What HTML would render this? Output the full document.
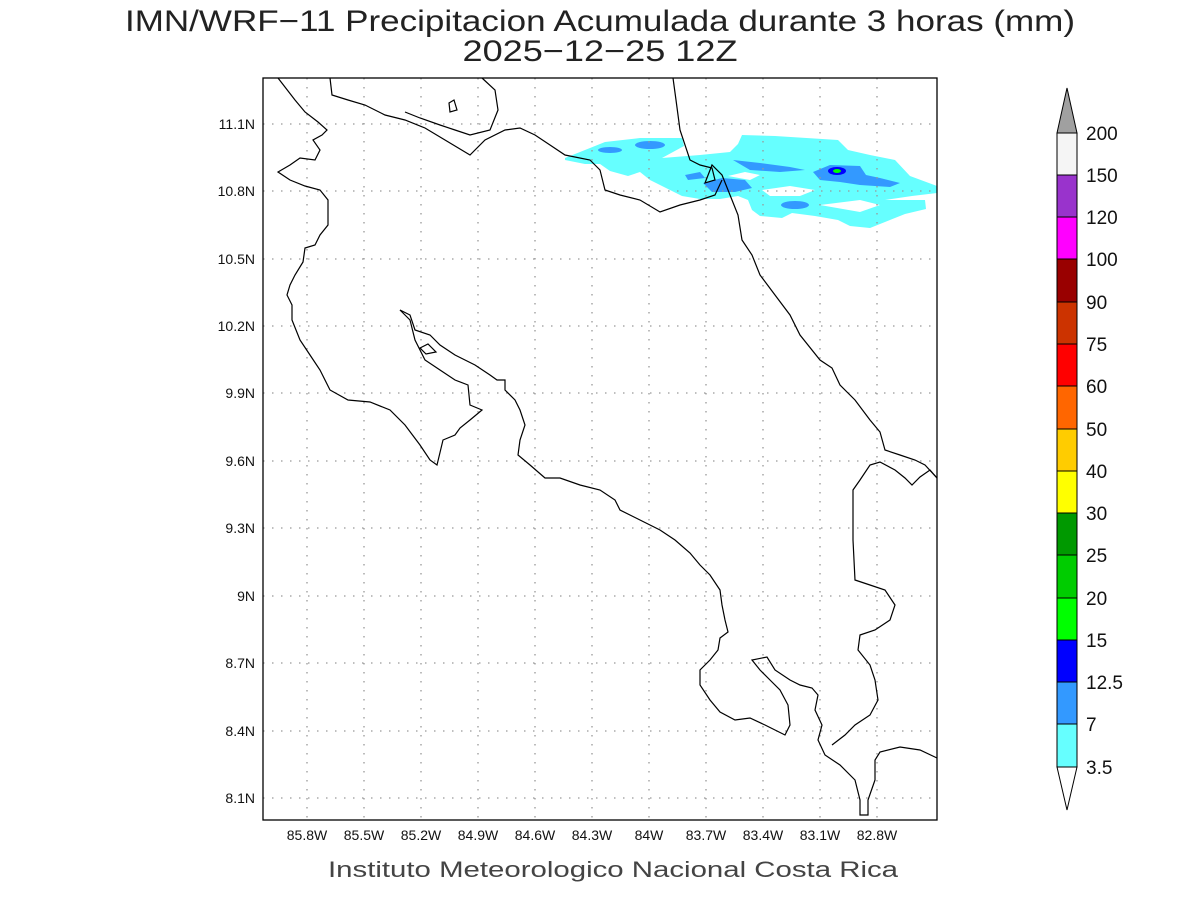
<!DOCTYPE html>
<html><head><meta charset="utf-8"><style>
html,body{margin:0;padding:0;background:#fff;}
svg{display:block;font-family:"Liberation Sans",sans-serif;}
</style></head><body>
<svg width="1200" height="900" viewBox="0 0 1200 900" xmlns="http://www.w3.org/2000/svg">
<rect width="1200" height="900" fill="#fff"/>
<text x="600" y="31" text-anchor="middle" font-size="30" fill="#222" textLength="950" lengthAdjust="spacingAndGlyphs">IMN/WRF−11 Precipitacion Acumulada durante 3 horas (mm)</text>
<text x="600" y="61" text-anchor="middle" font-size="30" fill="#222" textLength="275" lengthAdjust="spacingAndGlyphs">2025−12−25 12Z</text>
<!-- precipitation -->
<g>
<path fill="#66ffff" d="M565,158 L590,148 L605,142 L640,138 L682,138 L684,146 L662,158 L700,155 L730,152 L738,144 L742,135 L775,136 L838,140 L848,150 L870,155 L895,160 L910,176 L937,186 L937,193 L912,196 L885,200 L925,200 L926,209 L905,214 L885,222 L870,228 L850,226 L838,220 L815,216 L792,213 L782,218 L760,216 L752,210 L748,200 L738,196 L720,199 L700,199 L682,196 L662,186 L650,180 L640,172 L628,176 L610,171 L600,164 L585,164 L565,160 Z"/>
<path fill="#fff" d="M728,176 L745,172 L760,175 L750,180 Z"/>
<path fill="#fff" d="M762,190 L790,186 L815,190 L800,196 L770,196 Z"/>
<path fill="#fff" d="M820,205 L860,200 L880,205 L860,212 Z"/>
<g fill="#3399ff">
<ellipse cx="610" cy="150" rx="12" ry="3"/>
<ellipse cx="650" cy="145" rx="15" ry="4"/>
<path d="M703,183 L722,178 L745,180 L752,188 L735,192 L712,192 Z"/>
<path d="M733,160 L760,163 L790,167 L805,170 L780,172 L750,170 Z"/>
<path d="M685,175 L700,172 L705,178 L688,180 Z"/>
<path d="M813,172 L830,165 L860,166 L866,175 L880,178 L900,183 L890,187 L860,185 L840,182 L820,180 Z"/>
<ellipse cx="795" cy="205" rx="14" ry="4"/>
</g>
<ellipse cx="837" cy="171" rx="9" ry="4" fill="#0000ff"/>
<ellipse cx="837" cy="171" rx="4" ry="2" fill="#00ff00"/>
</g>
<!-- grid -->
<g stroke="#999" stroke-width="1.3" stroke-dasharray="1.5,7.5">
<line x1="307" y1="78" x2="307" y2="820"/><line x1="364" y1="78" x2="364" y2="820"/><line x1="421" y1="78" x2="421" y2="820"/><line x1="478" y1="78" x2="478" y2="820"/><line x1="535" y1="78" x2="535" y2="820"/><line x1="592" y1="78" x2="592" y2="820"/><line x1="649" y1="78" x2="649" y2="820"/><line x1="706" y1="78" x2="706" y2="820"/><line x1="763" y1="78" x2="763" y2="820"/><line x1="820" y1="78" x2="820" y2="820"/><line x1="877" y1="78" x2="877" y2="820"/>
<line x1="263" y1="124" x2="937" y2="124"/><line x1="263" y1="191" x2="937" y2="191"/><line x1="263" y1="259" x2="937" y2="259"/><line x1="263" y1="326" x2="937" y2="326"/><line x1="263" y1="393" x2="937" y2="393"/><line x1="263" y1="461" x2="937" y2="461"/><line x1="263" y1="528" x2="937" y2="528"/><line x1="263" y1="596" x2="937" y2="596"/><line x1="263" y1="663" x2="937" y2="663"/><line x1="263" y1="731" x2="937" y2="731"/><line x1="263" y1="798" x2="937" y2="798"/>
</g>
<!-- coastlines -->
<g fill="none" stroke="#000" stroke-width="1.2">
<polyline points="278,78 295,100 305,112 318,122 327,130 322,135 313,140 320,150 315,160 300,158 290,165 278,172 290,180 305,186 320,190 328,200 328,225 320,235 315,245 305,248 303,262 295,275 290,285 287,295 292,305 292,320 300,340 310,355 320,370 330,390 348,400 370,402 390,410 405,425 420,445 430,460 437,465 443,440 455,435 460,428 470,420 482,410 470,405 468,385 455,380 440,370 425,360 415,340 410,320 400,310"/>
<polyline points="400,310 410,315 415,330 430,335 440,345 455,355 475,365 490,375 497,380 505,380 505,390 515,400 520,410 525,425 520,440 518,455 530,465 545,478 560,478 580,485 600,490 615,500 620,510 640,520 660,530 675,540 690,553 700,565 710,575 720,590 722,605 725,620 728,632 720,638 718,650 710,660 700,670 700,685 710,700 720,712 735,720 750,718 765,725 785,735 790,725 788,705 780,690 770,680 760,670 752,660 767,657 775,670 790,680 800,685 812,688 818,695 815,710 822,725 818,740 825,755 840,765 855,780 860,800 860,815 868,815 868,800 875,780 875,760 880,752 900,747 920,750 937,758"/>
<polyline points="832,745 845,735 855,725 870,715 878,700 875,680 870,665 858,650 860,635 875,630 890,620 895,605 885,590 870,585 855,580 853,540 853,490 860,480 870,465 880,462 895,470 905,478 912,485 920,477 930,470 937,478"/>
<polyline points="673,78 676,100 680,130 690,160 700,165 712,168 715,180 705,183 712,165 722,175 730,195 738,215 742,240 752,255 760,275 775,295 790,315 800,335 820,360 832,368 840,385 855,400 870,420 880,432 885,450 900,455 915,460 925,465 937,478"/>
<polyline points="330,78 332,95 348,100 365,105 385,115 405,120 425,128 445,140 470,155 485,140 505,130 520,128 535,135 550,145 565,155 590,160 600,170 605,190 620,195 640,200 660,212 680,205 700,200 715,195 722,180"/>
<polyline points="482,78 495,90 498,110 490,130 470,135 455,130 440,125 420,118 405,112"/>
<polygon points="449,103 454,100 457,110 450,112"/>
<polygon points="420,348 428,344 436,352 426,354"/>
</g>
<rect x="263" y="78" width="674" height="742" fill="none" stroke="#000" stroke-width="1.3"/>
<!-- axis labels -->
<g font-size="14" fill="#111" text-anchor="end">
<text x="255" y="129">11.1N</text><text x="255" y="196">10.8N</text><text x="255" y="264">10.5N</text><text x="255" y="331">10.2N</text><text x="255" y="398">9.9N</text><text x="255" y="466">9.6N</text><text x="255" y="533">9.3N</text><text x="255" y="601">9N</text><text x="255" y="668">8.7N</text><text x="255" y="736">8.4N</text><text x="255" y="803">8.1N</text>
</g>
<g font-size="14" fill="#111" text-anchor="middle">
<text x="307" y="840">85.8W</text><text x="364" y="840">85.5W</text><text x="421" y="840">85.2W</text><text x="478" y="840">84.9W</text><text x="535" y="840">84.6W</text><text x="592" y="840">84.3W</text><text x="649" y="840">84W</text><text x="706" y="840">83.7W</text><text x="763" y="840">83.4W</text><text x="820" y="840">83.1W</text><text x="877" y="840">82.8W</text>
</g>
<text x="613" y="877" text-anchor="middle" font-size="22" fill="#444" textLength="570" lengthAdjust="spacingAndGlyphs">Instituto Meteorologico Nacional Costa Rica</text>
<!-- colorbar -->
<g stroke="#000" stroke-width="1">
<polygon points="1057,133 1077,133 1067,88" fill="#a0a0a0"/>
<rect x="1057" y="133" width="20" height="42" fill="#f5f5f5"/>
<rect x="1057" y="175" width="20" height="42" fill="#9933cc"/>
<rect x="1057" y="217" width="20" height="42" fill="#ff00ff"/>
<rect x="1057" y="259" width="20" height="43" fill="#990000"/>
<rect x="1057" y="302" width="20" height="42" fill="#cc3300"/>
<rect x="1057" y="344" width="20" height="42" fill="#ff0000"/>
<rect x="1057" y="386" width="20" height="43" fill="#ff6600"/>
<rect x="1057" y="429" width="20" height="42" fill="#ffcc00"/>
<rect x="1057" y="471" width="20" height="42" fill="#ffff00"/>
<rect x="1057" y="513" width="20" height="42" fill="#009900"/>
<rect x="1057" y="555" width="20" height="43" fill="#00cc00"/>
<rect x="1057" y="598" width="20" height="42" fill="#00ff00"/>
<rect x="1057" y="640" width="20" height="42" fill="#0000ff"/>
<rect x="1057" y="682" width="20" height="42" fill="#3399ff"/>
<rect x="1057" y="724" width="20" height="43" fill="#66ffff"/>
<polygon points="1057,767 1077,767 1067,810" fill="#fff"/>
</g>
<g font-size="19" fill="#111">
<text x="1086" y="140">200</text><text x="1086" y="182">150</text><text x="1086" y="224">120</text><text x="1086" y="266">100</text><text x="1086" y="309">90</text><text x="1086" y="351">75</text><text x="1086" y="393">60</text><text x="1086" y="436">50</text><text x="1086" y="478">40</text><text x="1086" y="520">30</text><text x="1086" y="562">25</text><text x="1086" y="605">20</text><text x="1086" y="647">15</text><text x="1086" y="689">12.5</text><text x="1086" y="731">7</text><text x="1086" y="774">3.5</text>
</g>
</svg>
</body></html>
